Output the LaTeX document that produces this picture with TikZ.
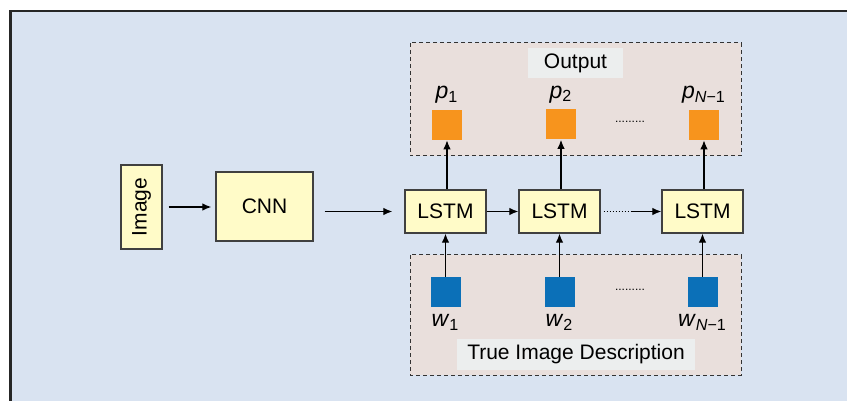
\documentclass[tikz,border=0pt]{standalone}
\usepackage{fontspec}
\setmainfont{Liberation Sans}
\usetikzlibrary{arrows.meta,positioning}

\definecolor{bgblue}{RGB}{217,227,241}
\definecolor{boxrose}{RGB}{233,223,220}
\definecolor{tagrey}{RGB}{236,238,238}
\definecolor{cellyellow}{RGB}{255,251,200}
\definecolor{outorange}{RGB}{247,148,29}
\definecolor{inblue}{RGB}{11,112,184}

\begin{document}
\begin{tikzpicture}[x=0.5pt, y=-0.5pt, >={Latex[length=4.5pt,width=3.8pt]},
    block/.style={rectangle, draw=black!75, line width=0.7pt, fill=cellyellow, inner sep=0pt, font=\fontsize{10.5}{12}\selectfont},
    group/.style={draw=black!80, line width=0.5pt, dash pattern=on 2pt off 1.5pt, fill=boxrose},
    tag/.style={fill=tagrey, inner sep=0pt, font=\fontsize{10.5}{12}\selectfont},
    cell/.style={rectangle, minimum size=15pt, inner sep=0pt},
    word/.style={font=\fontsize{11.5}{13}\selectfont},
    gap/.style={font=\fontsize{6}{7}\selectfont, inner sep=0pt},
    arr/.style={->, line width=0.6pt}]
  \useasboundingbox (0,0) rectangle (847,401);
  \clip (0,0) rectangle (847,401);
  \draw[line width=1.3pt, draw=black!85, fill=bgblue] (10.5,11) rectangle (900,450);

  % dashed groups
  \draw[group] (410,43) rectangle (741,156);
  \draw[group] (410,255) rectangle (741,375);
  \node[tag, minimum width=47.5pt, minimum height=15pt] (outtag) at (575.5,63) {Output};
  \node[tag, minimum width=119pt, minimum height=15.5pt] (intag) at (576,354.5) {True Image Description};

  % encoder
  \node[block, minimum width=42pt, minimum height=20.5pt, rotate=90] (img) at (141.5,207) {Image};
  \node[block, minimum width=48.5pt, minimum height=34.5pt] (cnn) at (264.5,206.5) {CNN};

  % recurrent cells
  \node[block, minimum width=40.5pt, minimum height=21.5pt] (l1) at (445.5,211.5) {LSTM};
  \node[block, minimum width=40.5pt, minimum height=21.5pt] (l2) at (559.5,211.5) {LSTM};
  \node[block, minimum width=40.5pt, minimum height=21.5pt] (l3) at (702.5,211.5) {LSTM};

  % outputs
  \node[cell, fill=outorange] (p1) at (447,125) {};
  \node[cell, fill=outorange] (p2) at (561,124.5) {};
  \node[cell, fill=outorange] (p3) at (704,125) {};
  \node[word, above=-0.5pt of p1] (p1lab) {\textit{p}\textsubscript{1}};
  \node[word, above=-0.5pt of p2] (p2lab) {\textit{p}\textsubscript{2}};
  \node[word, above=-0.5pt of p3] (p3lab) {\textit{p}\textsubscript{\textit{N}−1}};
  \node[gap] (pdots) at (630,122) {.........};

  % inputs
  \node[cell, fill=inblue] (w1) at (445.5,292) {};
  \node[cell, fill=inblue] (w2) at (559.5,292) {};
  \node[cell, fill=inblue] (w3) at (702.5,292) {};
  \node[word, below=0pt of w1] (w1lab) {\textit{w}\textsubscript{1}};
  \node[word, below=0pt of w2] (w2lab) {\textit{w}\textsubscript{2}};
  \node[word, below=0pt of w3] (w3lab) {\textit{w}\textsubscript{\textit{N}−1}};
  \node[gap] (wdots) at (630,290) {.........};

  \draw[arr, shorten <=3pt, shorten >=2pt] (img) -- (cnn.west |- img);
  \draw[arr, shorten <=5.5pt, shorten >=6pt] (cnn.east |- l1) -- (l1.west);
  \draw[arr] (l1) -- (l2);
  \coordinate (mid) at (631,211.5);
  \draw[line width=0.6pt, dash pattern=on 0.7pt off 0.8pt, shorten <=1.5pt] (l2.east) -- (mid);
  \draw[arr] (mid) -- (l3.west);
  \foreach \i in {1,2,3} {
    \draw[arr] (p\i.south |- l\i.north) -- (p\i.south);
    \draw[arr] (w\i) -- (l\i);
  }
\end{tikzpicture}
\end{document}
